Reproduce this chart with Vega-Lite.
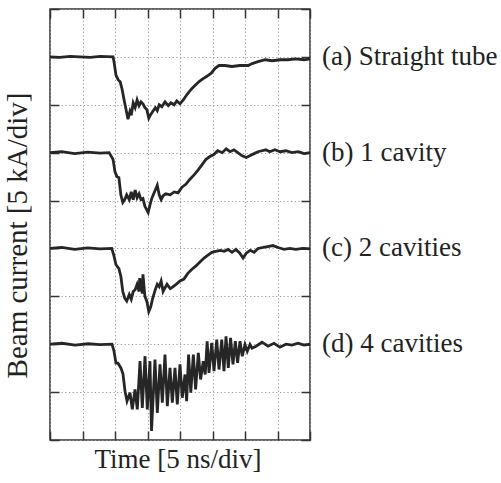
{
  "$schema": "https://vega.github.io/schema/vega-lite/v6.json",
  "width": 260,
  "height": 431,
  "autosize": {"type": "none"},
  "padding": {"left": 50, "top": 9, "right": 191, "bottom": 43},
  "background": "white",
  "config": {
    "view": {"stroke": "#333", "strokeWidth": 1.5},
    "axis": {
      "labels": false,
      "domain": false,
      "tickColor": "#333",
      "tickSize": -9,
      "tickWidth": 1.5,
      "gridColor": "#999",
      "gridDash": [1.2, 2.5],
      "gridWidth": 1,
      "titleFont": "Liberation Serif",
      "titleFontWeight": "normal",
      "titleColor": "#222"
    }
  },
  "datasets": {
    "traces": [
      {"s":"a","t":0,"v":40},{"s":"a","t":1.5,"v":39.95},{"s":"a","t":3.1,"v":40.05},{"s":"a","t":4.6,"v":40},{"s":"a","t":6.2,"v":39.95},{"s":"a","t":7.7,"v":40.05},{"s":"a","t":9.7,"v":40},{"s":"a","t":9.85,"v":39.5},{"s":"a","t":10.15,"v":38.1},{"s":"a","t":10.5,"v":37.6},{"s":"a","t":10.8,"v":37.4},{"s":"a","t":11.1,"v":36.6},{"s":"a","t":11.4,"v":35.5},{"s":"a","t":11.7,"v":34.5},{"s":"a","t":12.0,"v":33.5},{"s":"a","t":12.3,"v":34.3},{"s":"a","t":12.5,"v":33.9},{"s":"a","t":12.8,"v":35.2},{"s":"a","t":13.1,"v":34.7},{"s":"a","t":13.4,"v":35.5},{"s":"a","t":13.7,"v":34.9},{"s":"a","t":14.0,"v":35.3},{"s":"a","t":14.3,"v":35.1},{"s":"a","t":14.6,"v":34.7},{"s":"a","t":14.9,"v":34.5},{"s":"a","t":15.2,"v":33.6},{"s":"a","t":15.5,"v":34.0},{"s":"a","t":15.8,"v":34.3},{"s":"a","t":16.2,"v":34.7},{"s":"a","t":16.5,"v":34.4},{"s":"a","t":16.8,"v":35.0},{"s":"a","t":17.2,"v":34.8},{"s":"a","t":17.7,"v":35.3},{"s":"a","t":18.2,"v":34.9},{"s":"a","t":18.6,"v":35.2},{"s":"a","t":19.1,"v":35.0},{"s":"a","t":19.5,"v":35.4},{"s":"a","t":20.0,"v":35.1},{"s":"a","t":20.5,"v":35.5},{"s":"a","t":21.1,"v":36.1},{"s":"a","t":21.7,"v":36.6},{"s":"a","t":22.3,"v":37.0},{"s":"a","t":22.9,"v":37.4},{"s":"a","t":23.5,"v":37.7},{"s":"a","t":24.2,"v":38.0},{"s":"a","t":24.8,"v":38.3},{"s":"a","t":25.4,"v":38.8},{"s":"a","t":26.0,"v":39.1},{"s":"a","t":26.9,"v":39.1},{"s":"a","t":28.0,"v":39.0},{"s":"a","t":29.2,"v":39.1},{"s":"a","t":30.5,"v":39.1},{"s":"a","t":31.1,"v":39.3},{"s":"a","t":32.0,"v":39.5},{"s":"a","t":33.1,"v":39.7},{"s":"a","t":34.2,"v":39.6},{"s":"a","t":35.4,"v":39.7},{"s":"a","t":36.6,"v":39.7},{"s":"a","t":37.8,"v":39.8},{"s":"a","t":39.1,"v":39.7},{"s":"a","t":40,"v":39.8},

      {"s":"b","t":0,"v":30},{"s":"b","t":1.8,"v":30.1},{"s":"b","t":3.8,"v":29.9},{"s":"b","t":5.8,"v":30.05},{"s":"b","t":7.7,"v":29.95},{"s":"b","t":9.1,"v":30},{"s":"b","t":9.7,"v":29.3},{"s":"b","t":10.0,"v":28.0},{"s":"b","t":10.3,"v":27.5},{"s":"b","t":10.6,"v":27.4},{"s":"b","t":10.9,"v":25.6},{"s":"b","t":11.2,"v":24.8},{"s":"b","t":11.5,"v":25.1},{"s":"b","t":11.8,"v":25.6},{"s":"b","t":12.2,"v":25.1},{"s":"b","t":12.5,"v":25.9},{"s":"b","t":12.8,"v":25.1},{"s":"b","t":13.1,"v":26.1},{"s":"b","t":13.4,"v":25.3},{"s":"b","t":13.7,"v":25.7},{"s":"b","t":14.0,"v":25.1},{"s":"b","t":14.3,"v":25.2},{"s":"b","t":14.6,"v":24.4},{"s":"b","t":15.1,"v":23.75},{"s":"b","t":15.4,"v":24.6},{"s":"b","t":15.7,"v":25.3},{"s":"b","t":16.2,"v":26.1},{"s":"b","t":16.5,"v":26.6},{"s":"b","t":16.8,"v":25.6},{"s":"b","t":17.1,"v":25.1},{"s":"b","t":17.4,"v":25.5},{"s":"b","t":17.8,"v":25.7},{"s":"b","t":18.5,"v":25.6},{"s":"b","t":19.1,"v":25.9},{"s":"b","t":19.7,"v":25.8},{"s":"b","t":20.3,"v":26.4},{"s":"b","t":20.9,"v":26.7},{"s":"b","t":21.5,"v":27.2},{"s":"b","t":22.2,"v":27.7},{"s":"b","t":22.8,"v":28.2},{"s":"b","t":23.4,"v":28.75},{"s":"b","t":24.0,"v":29.3},{"s":"b","t":24.6,"v":29.6},{"s":"b","t":25.2,"v":29.8},{"s":"b","t":25.8,"v":30.2},{"s":"b","t":26.5,"v":30.0},{"s":"b","t":27.1,"v":30.4},{"s":"b","t":27.7,"v":30.1},{"s":"b","t":28.3,"v":30.3},{"s":"b","t":28.9,"v":30.0},{"s":"b","t":29.5,"v":29.7},{"s":"b","t":30.2,"v":29.5},{"s":"b","t":30.8,"v":29.7},{"s":"b","t":31.4,"v":29.9},{"s":"b","t":32.0,"v":30.1},{"s":"b","t":32.6,"v":30.2},{"s":"b","t":33.2,"v":30.3},{"s":"b","t":33.8,"v":30.1},{"s":"b","t":34.6,"v":30.3},{"s":"b","t":35.4,"v":30.1},{"s":"b","t":36.3,"v":30.2},{"s":"b","t":37.2,"v":30.0},{"s":"b","t":38.2,"v":30.1},{"s":"b","t":39.1,"v":29.9},{"s":"b","t":40,"v":30},

      {"s":"c","t":0,"v":20},{"s":"c","t":1.8,"v":20.1},{"s":"c","t":3.8,"v":19.9},{"s":"c","t":5.8,"v":20.05},{"s":"c","t":7.7,"v":19.95},{"s":"c","t":9.5,"v":20},{"s":"c","t":9.85,"v":19.2},{"s":"c","t":10.15,"v":18.3},{"s":"c","t":10.6,"v":17.9},{"s":"c","t":10.9,"v":17.1},{"s":"c","t":11.2,"v":15.5},{"s":"c","t":11.5,"v":14.8},{"s":"c","t":11.8,"v":14.5},{"s":"c","t":12.2,"v":15.2},{"s":"c","t":12.5,"v":14.7},{"s":"c","t":12.8,"v":15.5},{"s":"c","t":13.1,"v":15.7},{"s":"c","t":13.4,"v":16.25},{"s":"c","t":13.7,"v":15.5},{"s":"c","t":13.8,"v":16.9},{"s":"c","t":14.2,"v":15.3},{"s":"c","t":14.3,"v":17.3},{"s":"c","t":14.6,"v":15.0},{"s":"c","t":14.9,"v":14.5},{"s":"c","t":15.2,"v":13.4},{"s":"c","t":15.5,"v":13.9},{"s":"c","t":15.8,"v":14.8},{"s":"c","t":16.2,"v":15.7},{"s":"c","t":16.5,"v":16.25},{"s":"c","t":16.8,"v":16.0},{"s":"c","t":17.1,"v":16.6},{"s":"c","t":17.4,"v":15.5},{"s":"c","t":17.7,"v":15.9},{"s":"c","t":18.0,"v":16.25},{"s":"c","t":18.5,"v":15.8},{"s":"c","t":18.9,"v":16.0},{"s":"c","t":19.4,"v":16.25},{"s":"c","t":20.0,"v":16.6},{"s":"c","t":20.6,"v":16.8},{"s":"c","t":21.2,"v":17.4},{"s":"c","t":21.8,"v":17.8},{"s":"c","t":22.5,"v":18.2},{"s":"c","t":23.1,"v":18.6},{"s":"c","t":23.7,"v":19.0},{"s":"c","t":24.3,"v":19.3},{"s":"c","t":24.9,"v":19.6},{"s":"c","t":25.5,"v":19.7},{"s":"c","t":26.2,"v":19.8},{"s":"c","t":26.8,"v":19.7},{"s":"c","t":27.4,"v":19.9},{"s":"c","t":28.0,"v":19.6},{"s":"c","t":28.6,"v":19.9},{"s":"c","t":29.2,"v":19.5},{"s":"c","t":29.7,"v":19.0},{"s":"c","t":30.2,"v":19.5},{"s":"c","t":30.8,"v":19.8},{"s":"c","t":31.4,"v":19.6},{"s":"c","t":32.0,"v":20.0},{"s":"c","t":32.8,"v":20.1},{"s":"c","t":33.5,"v":20.2},{"s":"c","t":34.3,"v":20.3},{"s":"c","t":35.1,"v":20.1},{"s":"c","t":36.0,"v":19.9},{"s":"c","t":36.9,"v":20.0},{"s":"c","t":37.8,"v":19.9},{"s":"c","t":38.9,"v":20.0},{"s":"c","t":40,"v":19.95},

      {"s":"d","t":0,"v":10},{"s":"d","t":1.85,"v":10.1},{"s":"d","t":3.85,"v":9.9},{"s":"d","t":5.85,"v":10.05},{"s":"d","t":7.7,"v":9.95},{"s":"d","t":9.54,"v":10},{"s":"d","t":9.85,"v":9.27},{"s":"d","t":10.15,"v":8.02},{"s":"d","t":10.46,"v":8.02},{"s":"d","t":10.92,"v":7.5},{"s":"d","t":11.23,"v":6.88},{"s":"d","t":11.54,"v":5.1},{"s":"d","t":11.85,"v":4.06},{"s":"d","t":12.31,"v":4.93},{"s":"d","t":12.66,"v":3.2},{"s":"d","t":13.08,"v":5.28},{"s":"d","t":13.43,"v":3.2},{"s":"d","t":13.85,"v":8.23},{"s":"d","t":14.2,"v":3.36},{"s":"d","t":14.62,"v":8.75},{"s":"d","t":14.97,"v":3.2},{"s":"d","t":15.38,"v":8.23},{"s":"d","t":15.62,"v":0.94},{"s":"d","t":16.15,"v":8.41},{"s":"d","t":16.51,"v":2.84},{"s":"d","t":16.92,"v":7.89},{"s":"d","t":17.28,"v":3.89},{"s":"d","t":17.69,"v":8.93},{"s":"d","t":18.05,"v":3.54},{"s":"d","t":18.46,"v":7.53},{"s":"d","t":18.82,"v":3.89},{"s":"d","t":19.23,"v":7.53},{"s":"d","t":19.58,"v":3.72},{"s":"d","t":20.0,"v":7.89},{"s":"d","t":20.35,"v":4.41},{"s":"d","t":20.77,"v":6.84},{"s":"d","t":21.02,"v":4.06},{"s":"d","t":21.32,"v":8.93},{"s":"d","t":21.66,"v":4.93},{"s":"d","t":22.05,"v":8.93},{"s":"d","t":22.4,"v":5.28},{"s":"d","t":22.82,"v":9.09},{"s":"d","t":23.17,"v":6.32},{"s":"d","t":23.58,"v":8.23},{"s":"d","t":23.88,"v":6.84},{"s":"d","t":24.18,"v":10.31},{"s":"d","t":24.46,"v":7.01},{"s":"d","t":24.88,"v":10.14},{"s":"d","t":25.23,"v":7.19},{"s":"d","t":25.65,"v":10.49},{"s":"d","t":26.0,"v":7.36},{"s":"d","t":26.42,"v":10.49},{"s":"d","t":26.77,"v":7.19},{"s":"d","t":27.08,"v":10.83},{"s":"d","t":27.43,"v":7.53},{"s":"d","t":27.78,"v":10.66},{"s":"d","t":28.15,"v":7.89},{"s":"d","t":28.51,"v":10.31},{"s":"d","t":28.86,"v":8.05},{"s":"d","t":29.23,"v":10.31},{"s":"d","t":29.58,"v":8.75},{"s":"d","t":30.0,"v":9.97},{"s":"d","t":30.35,"v":9.27},{"s":"d","t":30.77,"v":9.97},{"s":"d","t":31.08,"v":9.58},{"s":"d","t":31.69,"v":9.79},{"s":"d","t":32.62,"v":10.21},{"s":"d","t":33.54,"v":9.79},{"s":"d","t":34.46,"v":10.1},{"s":"d","t":35.38,"v":9.69},{"s":"d","t":36.31,"v":10},{"s":"d","t":37.23,"v":9.9},{"s":"d","t":38.15,"v":10.1},{"s":"d","t":39.08,"v":9.9},{"s":"d","t":40,"v":10}
    ],
    "labels": [
      {"label": "(a) Straight tube", "level": 40},
      {"label": "(b) 1 cavity", "level": 30},
      {"label": "(c) 2 cavities", "level": 20},
      {"label": "(d) 4 cavities", "level": 10}
    ]
  },
  "layer": [
    {
      "data": {"name": "traces"},
      "mark": {"type": "line", "color": "#262626", "strokeWidth": 2.8, "clip": true},
      "encoding": {
        "x": {"field": "t", "type": "quantitative", "scale": {"domain": [0, 40], "nice": false, "zero": false},
              "axis": {"orient": "bottom", "values": [0,5,10,15,20,25,30,35,40], "title": "Time [5 ns/div]", "titleFontSize": 27, "titlePadding": 6, "titleX": 127.5}},
        "y": {"field": "v", "type": "quantitative", "scale": {"domain": [0, 45], "nice": false, "zero": false},
              "axis": {"orient": "left", "values": [0,5,10,15,20,25,30,35,40,45], "title": "Beam current [5 kA/div]", "titleFontSize": 29, "titlePadding": 17, "titleY": 226}},
        "detail": {"field": "s"}
      }
    },
    {
      "data": {"name": "labels"},
      "mark": {"type": "text", "align": "left", "baseline": "middle", "dx": 12, "font": "Liberation Serif", "fontSize": 27, "color": "#222"},
      "encoding": {
        "x": {"datum": 40, "type": "quantitative",
              "axis": {"orient": "top", "values": [0,5,10,15,20,25,30,35,40], "title": null, "grid": false}},
        "y": {"field": "level", "type": "quantitative",
              "axis": {"orient": "right", "values": [0,5,10,15,20,25,30,35,40,45], "title": null, "grid": false}},
        "text": {"field": "label"}
      }
    }
  ],
  "resolve": {"axis": {"x": "independent", "y": "independent"}}
}
